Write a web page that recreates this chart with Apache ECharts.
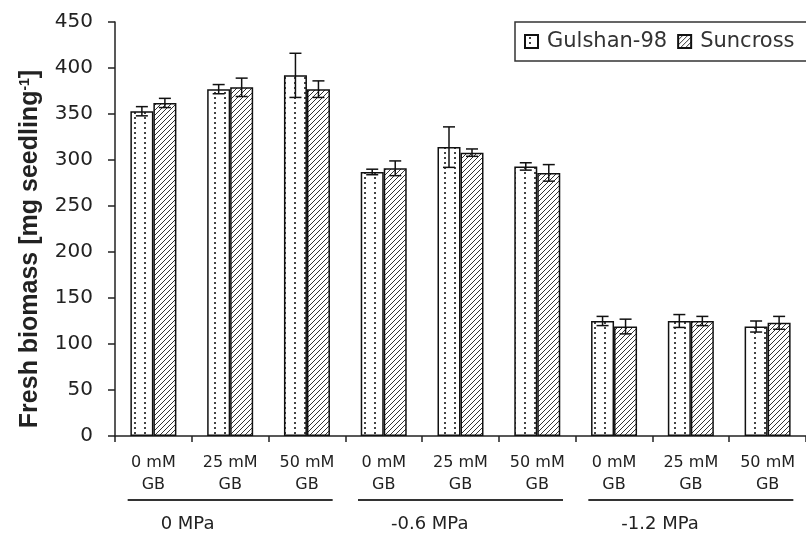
<!DOCTYPE html>
<html>
<head>
<meta charset="UTF-8">
<title>Fresh biomass</title>
<script src="https://cdn.jsdelivr.net/npm/echarts@6/dist/echarts.min.js"></script>
<style type="text/css">
  *{margin:0;padding:0;}
  body{background:#fff;}
  #main{width:806px;height:538px;}
</style>
</head>
<body>
<div id="main"></div>
<script type="text/javascript">
// categories (GB treatment) and the osmotic stress groups under them
var categories = ['0 mM\nGB', '25 mM\nGB', '50 mM\nGB',
                  '0 mM\nGB', '25 mM\nGB', '50 mM\nGB',
                  '0 mM\nGB', '25 mM\nGB', '50 mM\nGB'];
var pressureGroups = ['0 MPa', '-0.6 MPa', '-1.2 MPa'];

// fresh biomass, mg per seedling, and error bars
var gulshan     = [353, 377, 392, 287, 314, 293, 125, 125, 119];
var gulshanErr  = [5, 5, 24, 3, 22, 4, 5, 7, 6];
var suncross    = [362, 379, 377, 291, 308, 286, 119, 125, 123];
var suncrossErr = [5, 10, 9, 8, 4, 9, 8, 5, 7];

var yTicks = {min: 0, max: 450, step: 50};

var barW = 23;
var txt = '#222';

// fill patterns (dots for Gulshan-98, hatch for Suncross)
function dotPattern(){
    var c = document.createElement('canvas');
    c.width = 10; c.height = 5;
    var ctx = c.getContext('2d');
    ctx.fillStyle = '#fff';
    ctx.fillRect(0, 0, 10, 5);
    ctx.fillStyle = '#444';
    ctx.fillRect(4, 2, 2, 2);
    return {image: c, repeat: 'repeat'};
}
function hatchPattern(){
    var s = 5;
    var c = document.createElement('canvas');
    c.width = s; c.height = s;
    var ctx = c.getContext('2d');
    ctx.fillStyle = '#fff';
    ctx.fillRect(0, 0, s, s);
    ctx.strokeStyle = '#333';
    ctx.lineWidth = 1;
    ctx.beginPath();
    for (var k = -1; k <= 1; k++) {
        ctx.moveTo(k * s, s);
        ctx.lineTo(k * s + s, 0);
    }
    ctx.stroke();
    return {image: c, repeat: 'repeat'};
}

function errData(vals, errs){
    var out = [];
    for (var i = 0; i < vals.length; i++) out.push([i, vals[i], errs[i]]);
    return out;
}

// error bar drawn at the bar centre (shift = -1 left bar, +1 right bar)
function errRenderer(shift){
    return function(params, api){
        var i = api.value(0), v = api.value(1), e = api.value(2);
        var c = api.coord([i, v]);
        var x = c[0] + shift * barW / 2;
        var yT = api.coord([i, v + e])[1];
        var yB = api.coord([i, v - e])[1];
        var cap = 6;
        var st = {stroke: '#111', lineWidth: 1.5};
        return {
            type: 'group',
            children: [
                {type: 'line', shape: {x1: x, y1: yT, x2: x, y2: yB}, style: st},
                {type: 'line', shape: {x1: x - cap, y1: yT, x2: x + cap, y2: yT}, style: st},
                {type: 'line', shape: {x1: x - cap, y1: yB, x2: x + cap, y2: yB}, style: st}
            ]
        };
    };
}

var myChart = echarts.init(document.getElementById('main'));
var font = 'DejaVu Sans';

var option = {
    animation: false,
    backgroundColor: '#fff',
    legend: {
        data: ['Gulshan-98', 'Suncross'],
        orient: 'horizontal',
        left: 515,
        top: 22,
        width: 340,
        icon: 'rect',
        itemWidth: 13,
        itemHeight: 13,
        itemGap: 10,
        padding: [9, 30, 9, 9],
        borderColor: '#333',
        borderWidth: 1.5,
        textStyle: {fontFamily: font, fontSize: 21, color: '#333', padding: [0, 0, 0, 4]}
    },
    grid: {left: 115, top: 22, width: 697, bottom: 102, containLabel: false},
    xAxis: [
        {
            type: 'category',
            data: categories,
            axisLine: {lineStyle: {color: txt, width: 1.5}},
            axisTick: {show: true, length: 6, lineStyle: {color: txt, width: 1.5}},
            axisLabel: {
                interval: 0, margin: 16, fontFamily: font, fontSize: 16,
                lineHeight: 22, color: txt
            },
            splitLine: {show: false}
        },
        {
            type: 'category',
            position: 'bottom',
            data: pressureGroups,
            axisLine: {show: false},
            axisTick: {show: false},
            axisLabel: {
                interval: 0,
                margin: 63,
                formatter: function(v){ return '{line|}\n{name|' + v + '}'; },
                rich: {
                    line: {width: 205, height: 2, lineHeight: 2, backgroundColor: '#333'},
                    name: {fontFamily: font, fontSize: 18, color: txt, lineHeight: 46,
                           align: 'left', padding: [0, 0, 0, 33]}
                }
            },
            splitLine: {show: false}
        }
    ],
    yAxis: {
        type: 'value',
        min: yTicks.min,
        max: yTicks.max,
        interval: yTicks.step,
        name: 'Fresh biomass [mg seedling{sup|-1}]',
        nameLocation: 'middle',
        nameGap: 72,
        nameRotate: 90,
        nameTextStyle: {
            fontFamily: 'Liberation Sans', fontSize: 25, fontWeight: 'bold', color: txt,
            padding: [0, 40, 0, 0],
            rich: {
                sup: {fontFamily: 'Liberation Sans', fontSize: 14, fontWeight: 'bold',
                      color: txt, verticalAlign: 'top', padding: [0, 0, 10, 0]}
            }
        },
        axisLine: {show: true, lineStyle: {color: txt, width: 1.5}},
        axisTick: {show: true, length: 7, lineStyle: {color: txt, width: 1.5}},
        axisLabel: {margin: 22, fontFamily: font, fontSize: 20, color: txt},
        splitLine: {show: false}
    },
    series: [
        {
            name: 'Gulshan-98',
            type: 'bar',
            barWidth: barW,
            barGap: '0%',
            data: gulshan,
            itemStyle: {color: dotPattern(), borderColor: '#111', borderWidth: 1.5}
        },
        {
            name: 'Suncross',
            type: 'bar',
            barWidth: barW,
            barGap: '0%',
            data: suncross,
            itemStyle: {color: hatchPattern(), borderColor: '#111', borderWidth: 1.5}
        },
        {
            name: 'errG',
            type: 'custom',
            renderItem: errRenderer(-1),
            data: errData(gulshan, gulshanErr),
            encode: {x: 0, y: 1},
            z: 5
        },
        {
            name: 'errS',
            type: 'custom',
            renderItem: errRenderer(1),
            data: errData(suncross, suncrossErr),
            encode: {x: 0, y: 1},
            z: 5
        }
    ]
};
myChart.setOption(option);
</script>
</body>
</html>
